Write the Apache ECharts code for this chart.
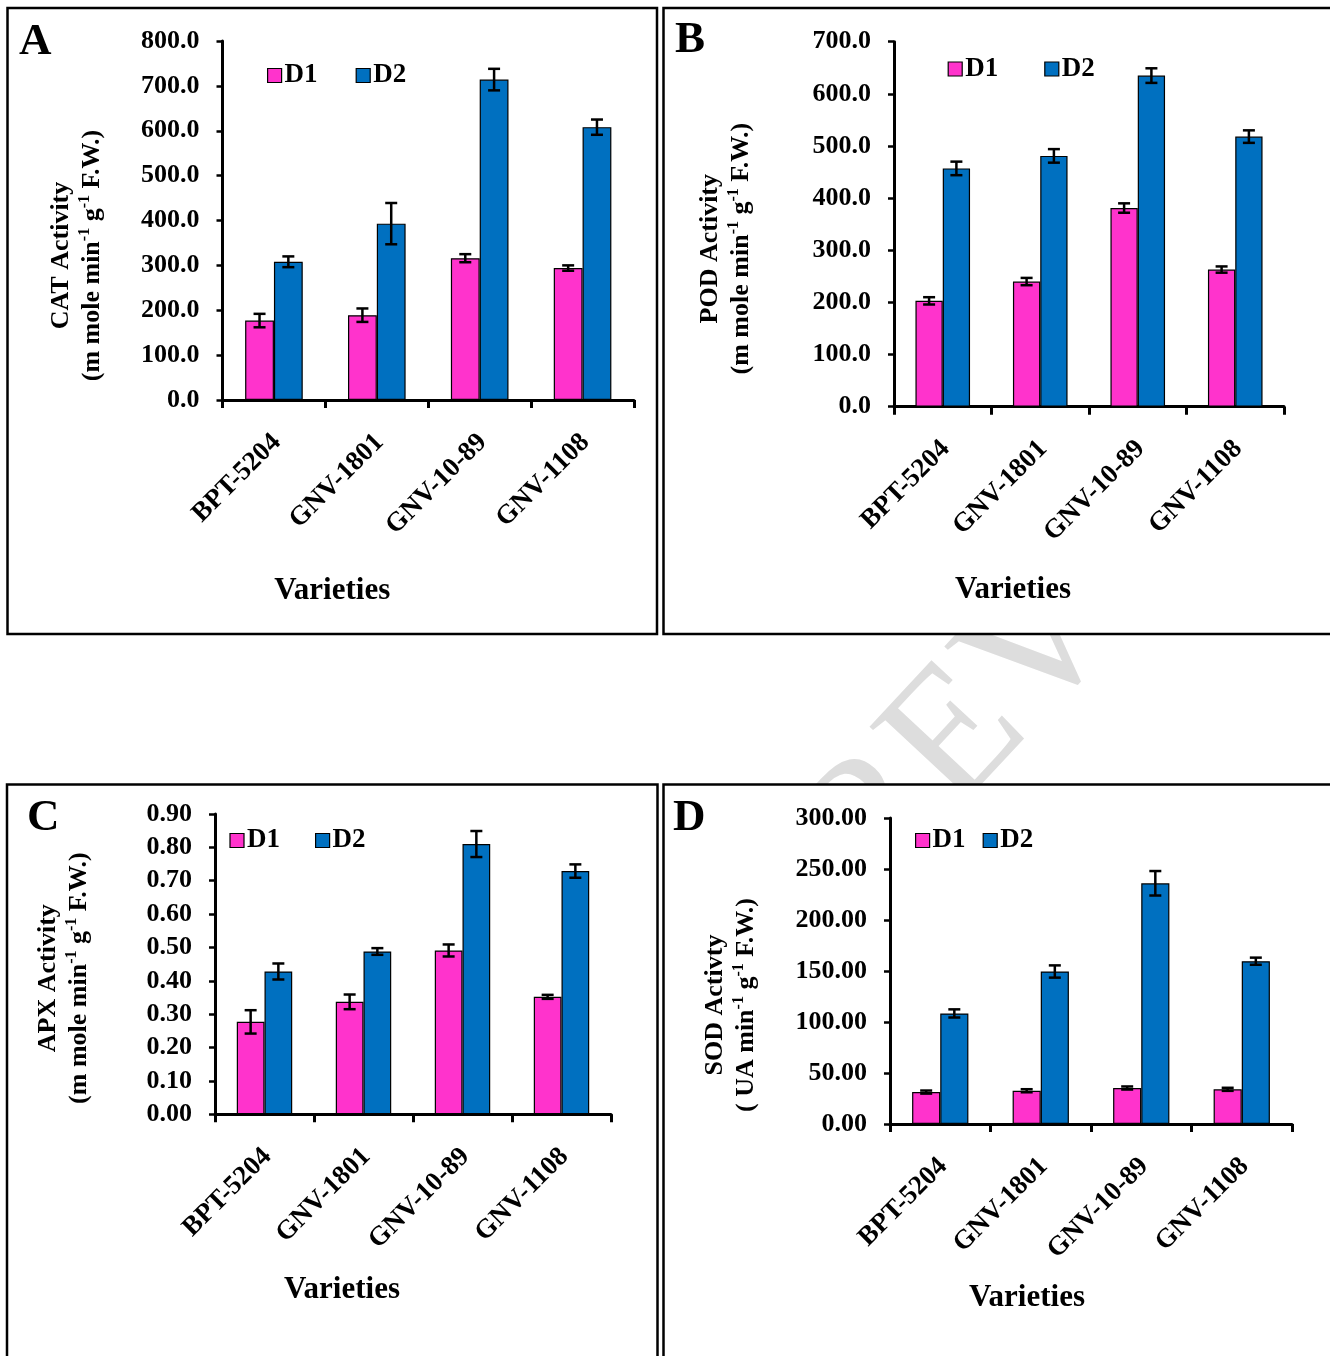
<!DOCTYPE html>
<html><head><meta charset="utf-8">
<script src="https://cdn.jsdelivr.net/npm/echarts@6/dist/echarts.min.js"></script>
<style>html,body{margin:0;padding:0;background:#fff}#c{width:1330px;height:1356px}</style>
</head><body><div id="c"></div>
<script>
// ---------- data ----------
const categories = ['BPT-5204', 'GNV-1801', 'GNV-10-89', 'GNV-1108'];
const seriesNames = ['D1', 'D2'];

// A: CAT activity
const catD1 = [177, 189, 316, 294];
const catD1Err = [15, 15, 9, 6];
const catD2 = [308, 393, 714, 608];
const catD2Err = [12, 46, 24, 17];
const catTicks = [0, 100, 200, 300, 400, 500, 600, 700, 800];

// B: POD activity
const podD1 = [203, 240, 381, 263];
const podD1Err = [7, 7, 9, 6];
const podD2 = [457, 481, 635, 518];
const podD2Err = [13, 13, 14, 12];
const podTicks = [0, 100, 200, 300, 400, 500, 600, 700];

// C: APX activity
const apxD1 = [0.277, 0.337, 0.491, 0.352];
const apxD1Err = [0.035, 0.022, 0.018, 0.006];
const apxD2 = [0.428, 0.488, 0.810, 0.729];
const apxD2Err = [0.024, 0.010, 0.039, 0.020];
const apxTicks = [0, 0.1, 0.2, 0.3, 0.4, 0.5, 0.6, 0.7, 0.8, 0.9];

// D: SOD activity
const sodD1 = [31.3, 32.6, 35.3, 34.0];
const sodD1Err = [1.5, 1.5, 1.5, 1.5];
const sodD2 = [108.4, 149.5, 236.0, 159.6];
const sodD2Err = [4, 6, 12, 3.5];
const sodTicks = [0, 50, 100, 150, 200, 250, 300];

// ---------- style / layout ----------
const FONT = '"Liberation Serif", "Times New Roman", serif';
const PINK = '#FF33CC', BLUE = '#0070C0';
const GAP = 0.44;

const panels = [
  { letter: 'A', lx: 19, ly: 42, grid: { left: 222.5, top: 41, width: 411.5, height: 359 },
    ticks: catTicks, dec: 1, d1: catD1, e1: catD1Err, d2: catD2, e2: catD2Err,
    name1: 'CAT Activity', name2a: '(m mole min', nameGap: 115, namePad: 70,
    legend: { left: 267, top: 62, gap: 38 }, xNamePad: 192, xNameGap: 175 },
  { letter: 'B', lx: 675, ly: 40, grid: { left: 894, top: 41.7, width: 390, height: 365 },
    ticks: podTicks, dec: 1, d1: podD1, e1: podD1Err, d2: podD2, e2: podD2Err,
    name1: 'POD Activity', name2a: '(m mole min', nameGap: 137, namePad: 49,
    legend: { left: 947.6, top: 55.5, gap: 46 }, xNamePad: 152, xNameGap: 168 },
  { letter: 'C', lx: 27, ly: 818.5, grid: { left: 215, top: 814, width: 396, height: 300.3 },
    ticks: apxTicks, dec: 2, d1: apxD1, e1: apxD1Err, d2: apxD2, e2: apxD2Err,
    name1: 'APX Activity', name2a: '(m mole min', nameGap: 120, namePad: 28,
    legend: { left: 229.4, top: 827, gap: 35 }, xNamePad: 142, xNameGap: 160 },
  { letter: 'D', lx: 673, ly: 818, grid: { left: 890, top: 818, width: 402, height: 306 },
    ticks: sodTicks, dec: 2, d1: sodD1, e1: sodD1Err, d2: sodD2, e2: sodD2Err,
    name1: 'SOD Activty', name2a: '( UA min', nameGap: 128, namePad: 68,
    legend: { left: 915, top: 827, gap: 17 }, xNamePad: 128, xNameGap: 158 }
];

const txt = (size) => ({ fontSize: size, fontWeight: 'bold', fontFamily: FONT, color: '#000' });

function errRender(side) {
  return function (params, api) {
    const k = api.value(0);
    const lo = api.coord([k, api.value(1)]);
    const hi = api.coord([k, api.value(2)]);
    const band = api.size([1, 0])[0];
    const bw = band * (1 - GAP) / 2;
    const x = lo[0] + side * bw / 2;
    const c = 6;
    const st = { stroke: '#000', lineWidth: 2.5 };
    return { type: 'group', children: [
      { type: 'line', shape: { x1: x, y1: lo[1], x2: x, y2: hi[1] }, style: st },
      { type: 'line', shape: { x1: x - c, y1: lo[1], x2: x + c, y2: lo[1] }, style: st },
      { type: 'line', shape: { x1: x - c, y1: hi[1], x2: x + c, y2: hi[1] }, style: st }
    ] };
  };
}

const grid = [], xAxis = [], yAxis = [], series = [], legend = [];
const graphic = [
  { type: 'text', x: 1045, y: 645, rotation: 47 * Math.PI / 180, z: -3,
    style: { text: 'PREVIEW', font: '185px "Liberation Serif"', fill: '#dddddd', textAlign: 'center', textVerticalAlign: 'middle' } },
  { type: 'rect', z: -2, shape: { x: 7.5, y: 8, width: 649.5, height: 626 }, style: { fill: '#fff', stroke: '#000', lineWidth: 2.5 } },
  { type: 'rect', z: -2, shape: { x: 663.5, y: 8, width: 700, height: 626 }, style: { fill: '#fff', stroke: '#000', lineWidth: 2.5 } },
  { type: 'rect', z: -2, shape: { x: 7, y: 784.5, width: 650.5, height: 700 }, style: { fill: '#fff', stroke: '#000', lineWidth: 2.5 } },
  { type: 'rect', z: -2, shape: { x: 663.5, y: 784.5, width: 700, height: 700 }, style: { fill: '#fff', stroke: '#000', lineWidth: 2.5 } }
];

panels.forEach((p, i) => {
  grid.push(Object.assign({ containLabel: false }, p.grid));
  const t = p.ticks;
  xAxis.push({
    gridIndex: i, type: 'category', data: categories,
    axisLine: { lineStyle: { color: '#000', width: 3 } },
    axisTick: { show: true, length: 8, alignWithLabel: false, lineStyle: { color: '#000', width: 3 } },
    axisLabel: Object.assign(txt(27), { rotate: 45, interval: 0, margin: 41, padding: [0, -4, 0, 0] }),
    name: 'Varieties', nameLocation: 'middle', nameGap: p.xNameGap,
    nameTextStyle: Object.assign(txt(31), { padding: [0, p.xNamePad, 0, 0] })
  });
  yAxis.push({
    gridIndex: i, type: 'value', min: t[0], max: t[t.length - 1], interval: +(t[1] - t[0]).toFixed(6),
    axisLine: { show: true, lineStyle: { color: '#000', width: 3 } },
    axisTick: { show: true, length: 6, lineStyle: { color: '#000', width: 2.5 } },
    splitLine: { show: false },
    axisLabel: Object.assign(txt(26), { margin: 23, formatter: v => v.toFixed(p.dec) }),
    name: '{a|' + p.name1 + '}\n{a|' + p.name2a + '}{s|-1}{a| g}{s|-1}{a| F.W.)}',
    nameLocation: 'middle', nameRotate: 90, nameGap: p.nameGap,
    nameTextStyle: {
      padding: [0, p.namePad, 0, 0],
      rich: {
        a: Object.assign(txt(26), { lineHeight: 31 }),
        s: Object.assign(txt(16), { lineHeight: 16, verticalAlign: 'top' })
      }
    }
  });
  series.push({ type: 'bar', name: 'D1', xAxisIndex: i, yAxisIndex: i, data: p.d1,
    barGap: '0%', barCategoryGap: (GAP * 100) + '%',
    itemStyle: { color: PINK, borderColor: '#000', borderWidth: 1.2 } });
  series.push({ type: 'bar', name: 'D2', xAxisIndex: i, yAxisIndex: i, data: p.d2,
    barGap: '0%', barCategoryGap: (GAP * 100) + '%',
    itemStyle: { color: BLUE, borderColor: '#000', borderWidth: 1.2 } });
  series.push({ type: 'custom', name: 'errD1', xAxisIndex: i, yAxisIndex: i, z: 5, silent: true,
    data: p.d1.map((v, k) => [k, v - p.e1[k], v + p.e1[k]]), encode: { x: 0, y: [1, 2] },
    renderItem: errRender(-1) });
  series.push({ type: 'custom', name: 'errD2', xAxisIndex: i, yAxisIndex: i, z: 5, silent: true,
    data: p.d2.map((v, k) => [k, v - p.e2[k], v + p.e2[k]]), encode: { x: 0, y: [1, 2] },
    renderItem: errRender(1) });
  legend.push({
    left: p.legend.left, top: p.legend.top, padding: 0, itemGap: p.legend.gap,
    itemWidth: 14, itemHeight: 14, icon: 'rect', selectedMode: false, data: seriesNames,
    itemStyle: { borderColor: '#000', borderWidth: 1.2 },
    textStyle: Object.assign(txt(27), { padding: [0, 0, 0, -2] })
  });
  graphic.push({ type: 'text', x: p.lx, y: p.ly, z: 10,
    style: { text: p.letter, font: 'bold 45px "Liberation Serif"', fill: '#000', textAlign: 'left', textVerticalAlign: 'middle' } });
});

const chart = echarts.init(document.getElementById('c'), null, { renderer: 'canvas' });
chart.setOption({
  backgroundColor: '#fff', animation: false,
  grid, xAxis, yAxis, series, legend, graphic
});
</script></body></html>
